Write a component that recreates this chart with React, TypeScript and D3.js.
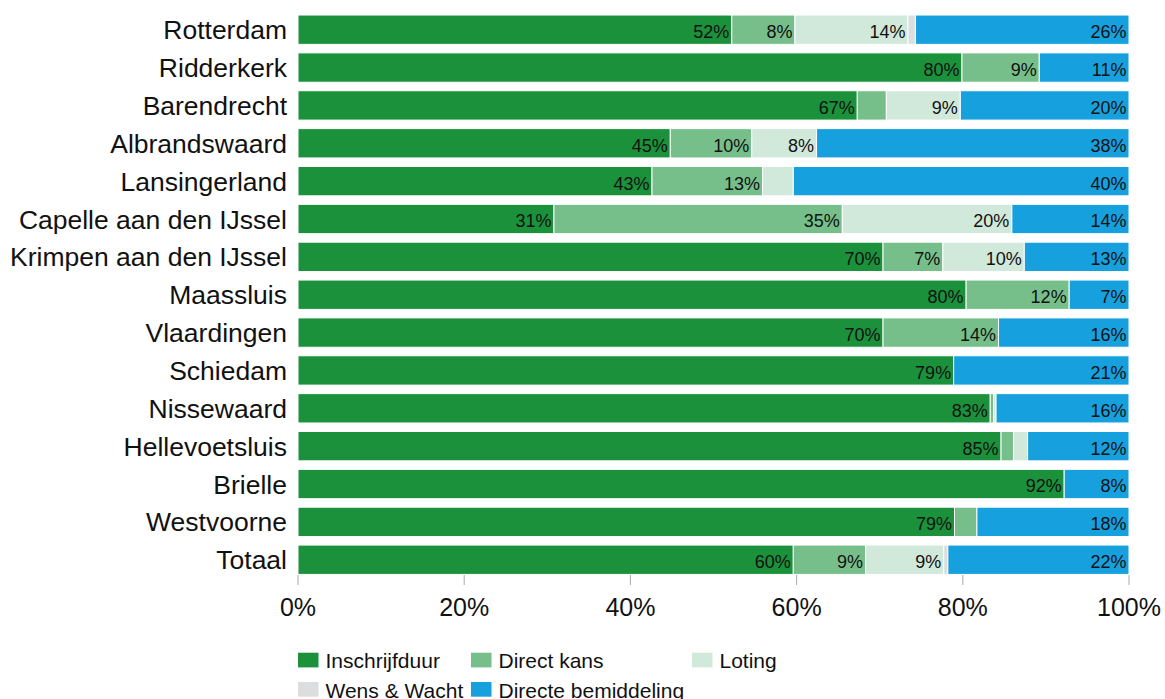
import * as d3 from 'd3'

const categories = [
  'Rotterdam',
  'Ridderkerk',
  'Barendrecht',
  'Albrandswaard',
  'Lansingerland',
  'Capelle aan den IJssel',
  'Krimpen aan den IJssel',
  'Maassluis',
  'Vlaardingen',
  'Schiedam',
  'Nissewaard',
  'Hellevoetsluis',
  'Brielle',
  'Westvoorne',
  'Totaal',
]

const seriesNames = ['Inschrijfduur', 'Direct kans', 'Loting', 'Wens & Wacht', 'Directe bemiddeling']

const inschrijfduur = [52.2, 79.9, 67.3, 44.8, 42.6, 30.8, 70.4, 80.4, 70.4, 78.9, 83.3, 84.6, 92.2, 79.0, 59.6]
const directKans = [7.6, 9.3, 3.5, 9.8, 13.3, 34.7, 7.2, 12.4, 13.9, 0, 0.4, 1.5, 0, 2.7, 8.7]
const loting = [13.6, 0, 8.9, 7.8, 3.7, 20.4, 9.8, 0, 0, 0, 0.3, 1.7, 0, 0, 9.4]
const wensWacht = [0.9, 0, 0, 0, 0, 0, 0, 0, 0, 0, 0, 0, 0, 0, 0.5]
const directeBemiddeling = [25.7, 10.8, 20.3, 37.6, 40.4, 14.1, 12.6, 7.2, 15.7, 21.1, 16.0, 12.2, 7.8, 18.3, 21.8]

const xTicks = [0, 20, 40, 60, 80, 100]

const colors = ['#1b913c', '#77bf8a', '#d1e9db', '#dcdddf', '#16a1de']

const FONT = '"Liberation Sans", Arial, sans-serif'

type Row = { category: string; [key: string]: number | string }

const rows: Row[] = categories.map((c, i) => ({
  category: c,
  [seriesNames[0]]: inschrijfduur[i],
  [seriesNames[1]]: directKans[i],
  [seriesNames[2]]: loting[i],
  [seriesNames[3]]: wensWacht[i],
  [seriesNames[4]]: directeBemiddeling[i],
}))

const App = () => {
  const width = 1165
  const height = 699

  const x = d3.scaleLinear().domain([0, 100]).range([298, 1129])
  const step = 37.86
  const top = 29.7 - step / 2
  const y = d3
    .scaleBand<string>()
    .domain(categories)
    .range([top, top + step * categories.length])
    .paddingInner(0.225)
    .paddingOuter(0.1125)

  const stacked = d3
    .stack<Row>()
    .keys(seriesNames)
    .value((d, key) => d[key] as number)(rows)

  const axisY = 575

  // legend: 3 kolommen, 2 rijen
  const legendCols = [298, 471, 692]
  const legendRows = [652.7, 682]

  return (
    <svg
      width={width}
      height={height}
      style={{ position: 'absolute', left: 0, top: 0, display: 'block', background: '#fff' }}
      fontFamily={FONT}
    >
      {/* categorie labels */}
      {categories.map((c) => (
        <text
          key={c}
          x={287}
          y={(y(c) as number) + y.bandwidth() / 2}
          dy="0.36em"
          textAnchor="end"
          fontSize={26.5}
          fill="#111"
        >
          {c}
        </text>
      ))}

      {/* gestapelde balken */}
      {stacked.map((layer, si) => (
        <g key={layer.key}>
          {layer.map((d) => {
            const w = x(d[1]) - x(d[0])
            if (w <= 0) return null
            return (
              <rect
                key={d.data.category as string}
                x={x(d[0])}
                y={y(d.data.category as string)}
                width={w}
                height={y.bandwidth()}
                fill={colors[si]}
                stroke="#fff"
                strokeWidth={1}
              />
            )
          })}
        </g>
      ))}

      {/* waarde labels */}
      {stacked.map((layer) => (
        <g key={'l' + layer.key}>
          {layer.map((d) => {
            const v = d[1] - d[0]
            if (v < 5) return null
            return (
              <text
                key={d.data.category as string}
                x={x(d[1]) - 2.5}
                y={(y(d.data.category as string) as number) + y.bandwidth() / 2}
                dy="0.47em"
                textAnchor="end"
                fontSize={18}
                fill="#111"
              >
                {Math.round(v)}%
              </text>
            )
          })}
        </g>
      ))}

      {/* x-as */}
      <g>
        {xTicks.map((t) => (
          <g key={t} transform={`translate(${x(t)},${axisY})`}>
            <line y1={0} y2={10} stroke="#aaa" strokeWidth={1} />
            <text y={40.5} textAnchor="middle" fontSize={25} fill="#111">
              {t}%
            </text>
          </g>
        ))}
      </g>

      {/* legenda */}
      {seriesNames.map((name, i) => {
        const col = i % 3
        const row = Math.floor(i / 3)
        const lx = legendCols[col]
        const ly = legendRows[row]
        return (
          <g key={name} transform={`translate(${lx},${ly})`}>
            <rect width={20.5} height={14.7} fill={colors[i]} />
            <text x={27.5} y={15.6} fontSize={21} fill="#111">
              {name}
            </text>
          </g>
        )
      })}
    </svg>
  )
}

export default App
